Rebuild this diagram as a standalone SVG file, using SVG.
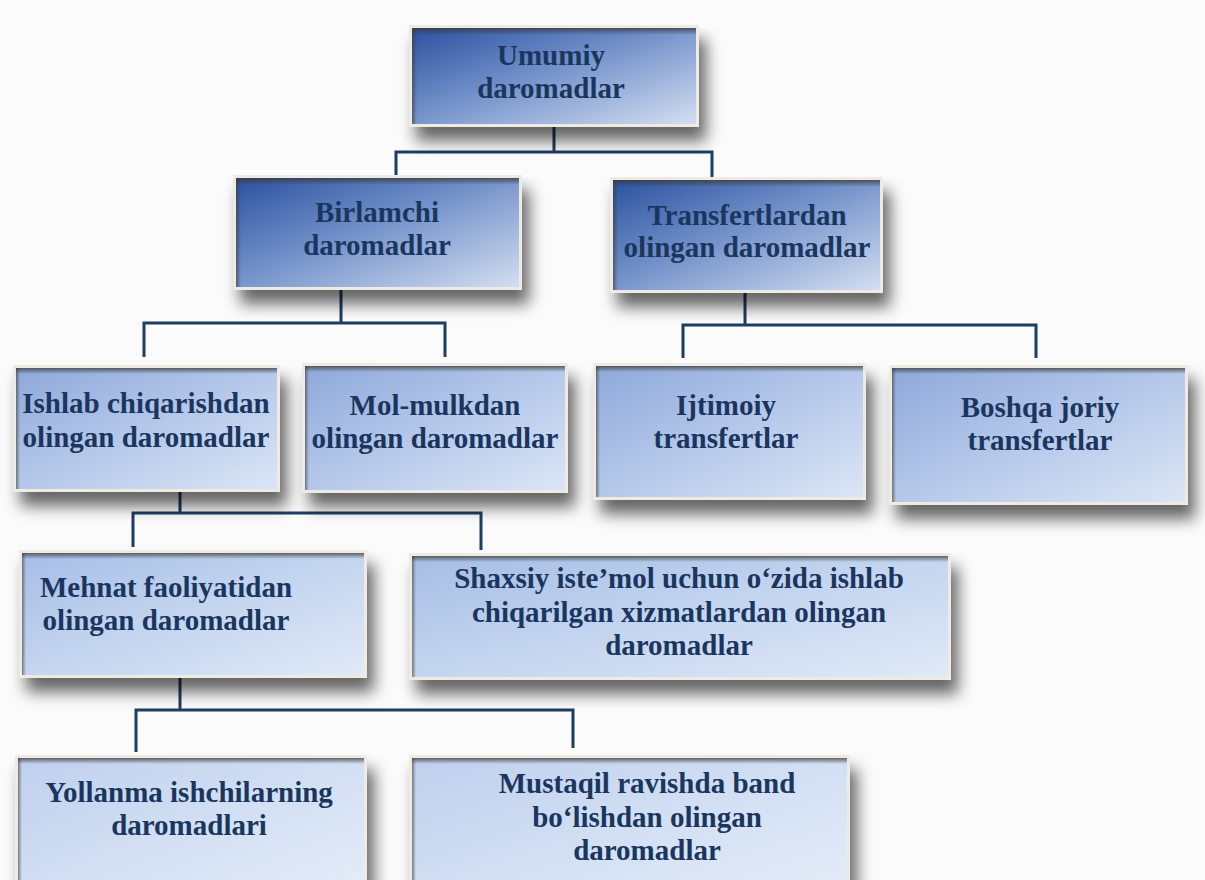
<svg xmlns="http://www.w3.org/2000/svg" width="1205" height="880" viewBox="0 0 1205 880">
<defs>
<linearGradient id="gDark" x1="0" y1="0" x2="1" y2="1">
<stop offset="0" stop-color="#2c51a0"/>
<stop offset="0.45" stop-color="#7190c9"/>
<stop offset="1" stop-color="#d3def1"/>
</linearGradient>
<linearGradient id="gMid" x1="0" y1="0" x2="1" y2="1">
<stop offset="0" stop-color="#8ea8da"/>
<stop offset="0.5" stop-color="#b5c8ea"/>
<stop offset="1" stop-color="#dbe6f5"/>
</linearGradient>
<linearGradient id="gLight" x1="0" y1="0" x2="1" y2="1">
<stop offset="0" stop-color="#a6bde6"/>
<stop offset="0.5" stop-color="#c4d5ef"/>
<stop offset="1" stop-color="#e0e9f7"/>
</linearGradient>
<linearGradient id="gPale" x1="0" y1="0" x2="1" y2="1">
<stop offset="0" stop-color="#bfd0ee"/>
<stop offset="0.5" stop-color="#d2dff3"/>
<stop offset="1" stop-color="#e6edf9"/>
</linearGradient>
<linearGradient id="topShade" x1="0" y1="0" x2="0" y2="1">
<stop offset="0" stop-color="#3a3a3a" stop-opacity="0.75"/>
<stop offset="1" stop-color="#3a3a3a" stop-opacity="0"/>
</linearGradient>
<linearGradient id="leftShade" x1="0" y1="0" x2="1" y2="0">
<stop offset="0" stop-color="#3a3a3a" stop-opacity="0.6"/>
<stop offset="1" stop-color="#3a3a3a" stop-opacity="0"/>
</linearGradient>
<filter id="shadow" x="-10%" y="-10%" width="130%" height="150%">
<feGaussianBlur in="SourceAlpha" stdDeviation="8"/>
<feOffset dx="7" dy="14" result="b"/>
<feComponentTransfer><feFuncA type="linear" slope="0.6"/></feComponentTransfer>
<feMerge><feMergeNode/><feMergeNode in="SourceGraphic"/></feMerge>
</filter>
</defs>
<style>
.frame{fill:#efebe3;filter:url(#shadow)}
.t{font-family:"Liberation Serif","Times New Roman",serif;font-weight:bold;font-size:29px;fill:#1a365f;text-anchor:middle}
.c{stroke:#1e3d63;stroke-width:3;fill:none}
</style>
<rect width="1205" height="880" fill="#fbfbfb"/>

<g id="connectors">
<path class="c" d="M554 127V152M396 175V152H712V177"/>
<path class="c" d="M341 290V323M144 357V323H445V357"/>
<path class="c" d="M745 293V325M683 358V325H1036V358"/>
<path class="c" d="M180 492V513M133 547V513H481V550"/>
<path class="c" d="M180 678V710M136 752V710H573V748"/>
</g>

<g id="n-umumiy">
<rect class="frame" x="409" y="25" width="290" height="102"/>
<rect x="412" y="28" width="284" height="96" fill="url(#gDark)"/>
<rect x="412" y="28" width="284" height="7" fill="url(#topShade)"/>
<rect x="412" y="28" width="5" height="96" fill="url(#leftShade)"/>
<text class="t" x="551" y="65">Umumiy</text>
<text class="t" x="551" y="98">daromadlar</text>
</g>

<g id="n-birlamchi">
<rect class="frame" x="233" y="175" width="289" height="115"/>
<rect x="236" y="178" width="283" height="109" fill="url(#gDark)"/>
<rect x="236" y="178" width="283" height="7" fill="url(#topShade)"/>
<rect x="236" y="178" width="5" height="109" fill="url(#leftShade)"/>
<text class="t" x="377" y="222">Birlamchi</text>
<text class="t" x="377" y="255">daromadlar</text>
</g>

<g id="n-transfert">
<rect class="frame" x="610" y="177" width="273" height="116"/>
<rect x="613" y="180" width="267" height="110" fill="url(#gDark)"/>
<rect x="613" y="180" width="267" height="7" fill="url(#topShade)"/>
<rect x="613" y="180" width="5" height="110" fill="url(#leftShade)"/>
<text class="t" x="747" y="225">Transfertlardan</text>
<text class="t" x="747" y="257">olingan daromadlar</text>
</g>

<g id="n-ishlab">
<rect class="frame" x="13" y="365" width="267" height="127"/>
<rect x="16" y="368" width="261" height="121" fill="url(#gMid)"/>
<rect x="16" y="368" width="261" height="6" fill="url(#topShade)"/>
<rect x="16" y="368" width="4" height="121" fill="url(#leftShade)"/>
<text class="t" x="146" y="413">Ishlab chiqarishdan</text>
<text class="t" x="146" y="447">olingan daromadlar</text>
</g>

<g id="n-mol">
<rect class="frame" x="302" y="363" width="266" height="130"/>
<rect x="305" y="366" width="260" height="124" fill="url(#gMid)"/>
<rect x="305" y="366" width="260" height="6" fill="url(#topShade)"/>
<rect x="305" y="366" width="4" height="124" fill="url(#leftShade)"/>
<text class="t" x="435" y="415">Mol-mulkdan</text>
<text class="t" x="435" y="448">olingan daromadlar</text>
</g>

<g id="n-ijtimoiy">
<rect class="frame" x="593" y="363" width="273" height="137"/>
<rect x="596" y="366" width="267" height="131" fill="url(#gMid)"/>
<rect x="596" y="366" width="267" height="6" fill="url(#topShade)"/>
<rect x="596" y="366" width="4" height="131" fill="url(#leftShade)"/>
<text class="t" x="726" y="415">Ijtimoiy</text>
<text class="t" x="726" y="448">transfertlar</text>
</g>

<g id="n-boshqa">
<rect class="frame" x="889" y="365" width="299" height="140"/>
<rect x="892" y="368" width="293" height="134" fill="url(#gMid)"/>
<rect x="892" y="368" width="293" height="6" fill="url(#topShade)"/>
<rect x="892" y="368" width="4" height="134" fill="url(#leftShade)"/>
<text class="t" x="1040" y="417">Boshqa joriy</text>
<text class="t" x="1040" y="450">transfertlar</text>
</g>

<g id="n-mehnat">
<rect class="frame" x="19" y="550" width="348" height="128"/>
<rect x="22" y="553" width="342" height="122" fill="url(#gLight)"/>
<rect x="22" y="553" width="342" height="6" fill="url(#topShade)"/>
<rect x="22" y="553" width="4" height="122" fill="url(#leftShade)"/>
<text class="t" x="166" y="597">Mehnat faoliyatidan</text>
<text class="t" x="166" y="630">olingan daromadlar</text>
</g>

<g id="n-shaxsiy">
<rect class="frame" x="409" y="553" width="542" height="127"/>
<rect x="412" y="556" width="536" height="121" fill="url(#gLight)"/>
<rect x="412" y="556" width="536" height="6" fill="url(#topShade)"/>
<rect x="412" y="556" width="4" height="121" fill="url(#leftShade)"/>
<text class="t" x="679" y="588">Shaxsiy iste’mol uchun o‘zida ishlab</text>
<text class="t" x="679" y="622">chiqarilgan xizmatlardan olingan</text>
<text class="t" x="679" y="655">daromadlar</text>
</g>

<g id="n-yollanma">
<rect class="frame" x="15" y="755" width="352" height="145"/>
<rect x="18" y="758" width="346" height="142" fill="url(#gPale)"/>
<rect x="18" y="758" width="346" height="6" fill="url(#topShade)"/>
<rect x="18" y="758" width="4" height="142" fill="url(#leftShade)"/>
<text class="t" x="189" y="802">Yollanma ishchilarning</text>
<text class="t" x="189" y="835">daromadlari</text>
</g>

<g id="n-mustaqil">
<rect class="frame" x="409" y="755" width="441" height="145"/>
<rect x="412" y="758" width="435" height="142" fill="url(#gPale)"/>
<rect x="412" y="758" width="435" height="6" fill="url(#topShade)"/>
<rect x="412" y="758" width="4" height="142" fill="url(#leftShade)"/>
<text class="t" x="647" y="793">Mustaqil ravishda band</text>
<text class="t" x="647" y="827">bo‘lishdan olingan</text>
<text class="t" x="647" y="860">daromadlar</text>
</g>
</svg>
